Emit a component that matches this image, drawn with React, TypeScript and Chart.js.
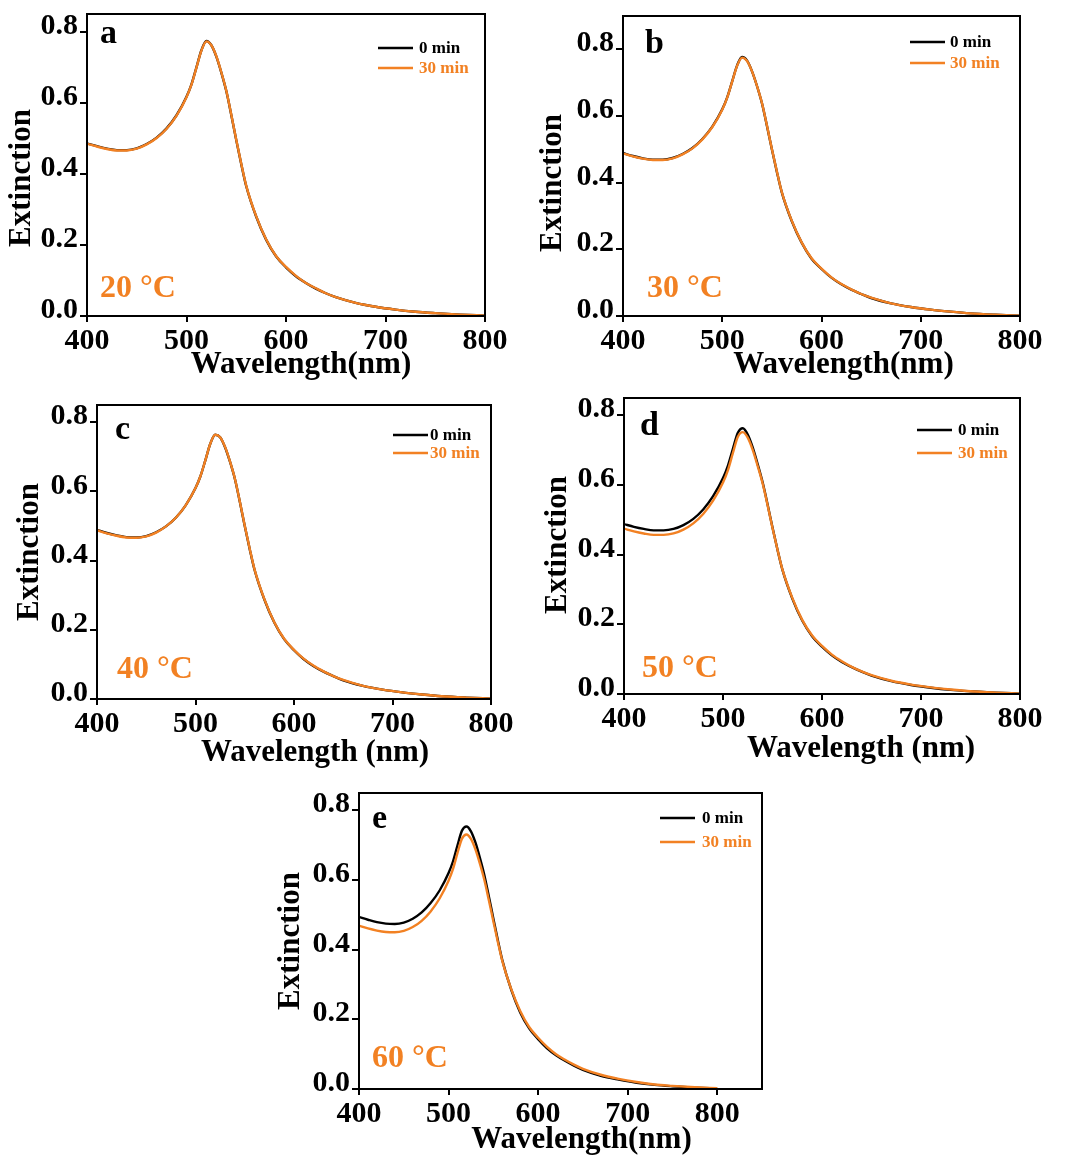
import React, { useEffect, useRef } from 'react';
import { Chart, registerables } from 'chart.js';

Chart.register(...registerables);

// ---------------- DATA ----------------
const WAVELENGTHS = [400, 410, 420, 430, 440, 450, 460, 470, 480, 490, 500, 505, 510, 515, 520, 525, 530, 535, 540, 545, 550, 555, 560, 570, 580, 590, 600, 610, 620, 630, 640, 650, 670, 690, 710, 730, 750, 775, 800];

const A_0MIN = [0.486, 0.478, 0.471, 0.467, 0.467, 0.472, 0.484, 0.502, 0.528, 0.565, 0.617, 0.652, 0.700, 0.748, 0.774, 0.762, 0.730, 0.685, 0.633, 0.566, 0.495, 0.428, 0.366, 0.280, 0.215, 0.168, 0.137, 0.112, 0.093, 0.077, 0.064, 0.053, 0.037, 0.026, 0.018, 0.012, 0.008, 0.004, 0.001];
const A_30MIN = [0.485, 0.477, 0.470, 0.466, 0.466, 0.471, 0.483, 0.501, 0.527, 0.564, 0.616, 0.651, 0.699, 0.747, 0.773, 0.762, 0.731, 0.686, 0.634, 0.567, 0.496, 0.429, 0.367, 0.281, 0.216, 0.169, 0.138, 0.113, 0.093, 0.078, 0.064, 0.053, 0.037, 0.026, 0.018, 0.012, 0.008, 0.004, 0.001];

const B_0MIN = [0.489, 0.480, 0.473, 0.469, 0.469, 0.474, 0.486, 0.504, 0.531, 0.568, 0.620, 0.656, 0.704, 0.752, 0.777, 0.766, 0.734, 0.690, 0.638, 0.571, 0.500, 0.433, 0.371, 0.285, 0.220, 0.172, 0.141, 0.115, 0.095, 0.079, 0.066, 0.054, 0.038, 0.027, 0.019, 0.013, 0.008, 0.004, 0.001];
const B_30MIN = [0.488, 0.479, 0.472, 0.468, 0.468, 0.473, 0.485, 0.503, 0.530, 0.567, 0.619, 0.655, 0.703, 0.751, 0.775, 0.765, 0.734, 0.690, 0.639, 0.572, 0.501, 0.434, 0.372, 0.286, 0.221, 0.173, 0.142, 0.116, 0.096, 0.080, 0.066, 0.055, 0.038, 0.027, 0.019, 0.013, 0.008, 0.004, 0.001];

const C_0MIN = [0.489, 0.480, 0.473, 0.468, 0.467, 0.471, 0.482, 0.499, 0.524, 0.560, 0.610, 0.644, 0.690, 0.738, 0.764, 0.757, 0.728, 0.686, 0.636, 0.570, 0.500, 0.434, 0.373, 0.287, 0.221, 0.173, 0.141, 0.115, 0.095, 0.079, 0.066, 0.054, 0.038, 0.027, 0.019, 0.013, 0.008, 0.004, 0.001];
const C_30MIN = [0.488, 0.479, 0.472, 0.467, 0.466, 0.470, 0.481, 0.499, 0.524, 0.560, 0.610, 0.644, 0.690, 0.738, 0.764, 0.757, 0.729, 0.687, 0.637, 0.571, 0.501, 0.435, 0.374, 0.288, 0.222, 0.174, 0.142, 0.116, 0.096, 0.080, 0.066, 0.055, 0.038, 0.027, 0.019, 0.013, 0.008, 0.004, 0.001];

const D_0MIN = [0.488, 0.480, 0.474, 0.470, 0.470, 0.474, 0.485, 0.503, 0.530, 0.568, 0.620, 0.656, 0.704, 0.750, 0.763, 0.745, 0.708, 0.660, 0.608, 0.545, 0.478, 0.415, 0.357, 0.274, 0.211, 0.166, 0.136, 0.111, 0.092, 0.077, 0.064, 0.053, 0.037, 0.026, 0.018, 0.012, 0.008, 0.004, 0.001];
const D_30MIN = [0.475, 0.467, 0.461, 0.457, 0.457, 0.461, 0.472, 0.490, 0.517, 0.555, 0.607, 0.643, 0.692, 0.739, 0.752, 0.736, 0.701, 0.655, 0.605, 0.543, 0.477, 0.415, 0.358, 0.276, 0.213, 0.168, 0.138, 0.113, 0.094, 0.078, 0.065, 0.054, 0.038, 0.027, 0.019, 0.013, 0.008, 0.004, 0.001];

const E_0MIN = [0.494, 0.486, 0.479, 0.475, 0.474, 0.478, 0.489, 0.507, 0.534, 0.570, 0.620, 0.654, 0.700, 0.742, 0.754, 0.740, 0.708, 0.664, 0.614, 0.553, 0.490, 0.428, 0.370, 0.285, 0.220, 0.174, 0.143, 0.117, 0.097, 0.081, 0.067, 0.055, 0.038, 0.027, 0.018, 0.012, 0.008, 0.004, 0.001];
const E_30MIN = [0.469, 0.461, 0.455, 0.451, 0.450, 0.454, 0.465, 0.483, 0.510, 0.547, 0.598, 0.632, 0.678, 0.719, 0.731, 0.718, 0.688, 0.647, 0.600, 0.542, 0.482, 0.423, 0.368, 0.287, 0.224, 0.178, 0.147, 0.121, 0.100, 0.084, 0.070, 0.058, 0.041, 0.029, 0.020, 0.013, 0.009, 0.005, 0.002];

const SERIES_LABELS = ['0 min', '30 min'];
const PANEL_LETTERS = ['a', 'b', 'c', 'd', 'e'];
const TEMPERATURES = ['20 °C', '30 °C', '40 °C', '50 °C', '60 °C'];
const X_TITLES = ['Wavelength(nm)', 'Wavelength(nm)', 'Wavelength (nm)', 'Wavelength (nm)', 'Wavelength(nm)'];
const Y_TITLE = 'Extinction';
const X_TICKS = [400, 500, 600, 700, 800];
const Y_TICKS = [0, 0.2, 0.4, 0.6, 0.8];
const X_MIN = 400;
const X_MAX = [800, 800, 800, 800, 850];
const Y_MIN = 0;
const Y_MAX = [0.85, 0.9, 0.85, 0.85, 0.85];

const SERIES = [
  [A_0MIN, A_30MIN],
  [B_0MIN, B_30MIN],
  [C_0MIN, C_30MIN],
  [D_0MIN, D_30MIN],
  [E_0MIN, E_30MIN],
];

// ---------------- STYLE / LAYOUT ----------------
const FONT = '"Liberation Serif", "Times New Roman", "DejaVu Serif", serif';
const BLACK = '#000000';
const ORANGE = '#F28123';

const PANEL_LAYOUT = [
  { L: 87, T: 14, R: 485, B: 316, letter: [13, 29], temp: [13, -19], legLine: -107, legText: -66, legY: [34, 54], yTitle: [-65, 13], xTitle: [15, 57] },
  { L: 623, T: 16, R: 1020, B: 316, letter: [22, 37], temp: [24, -19], legLine: -110, legText: -70, legY: [26, 47], yTitle: [-70, 17], xTitle: [22, 57] },
  { L: 97, T: 405, R: 491, B: 699, letter: [18, 34], temp: [20, -21], legLine: -98, legText: -61, legY: [30, 48], yTitle: [-67, 0], xTitle: [21, 62] },
  { L: 624, T: 398, R: 1020, B: 694, letter: [16, 37], temp: [18, -17], legLine: -103, legText: -62, legY: [32, 55], yTitle: [-66, -1], xTitle: [39, 63] },
  { L: 359, T: 793, R: 762, B: 1089, letter: [13, 35], temp: [13, -22], legLine: -102, legText: -60, legY: [25, 49], yTitle: [-68, 0], xTitle: [21, 59] },
];

const PAD_L = 100;
const PAD_T = 30;
const PAD_R = 50;
const PAD_B = 80;

const decorPlugin = {
  id: 'decor',
  afterDraw(chart: any, _args: any, opts: any) {
    const { ctx, chartArea: ca } = chart;
    const lay = opts.layout;
    ctx.save();
    // frame
    ctx.strokeStyle = BLACK;
    ctx.lineWidth = 2;
    ctx.strokeRect(ca.left, ca.top, ca.right - ca.left, ca.bottom - ca.top);

    // panel letter
    ctx.fillStyle = BLACK;
    ctx.textAlign = 'left';
    ctx.textBaseline = 'alphabetic';
    ctx.font = `bold 34px ${FONT}`;
    ctx.fillText(opts.letter, ca.left + lay.letter[0], ca.top + lay.letter[1]);

    // temperature
    ctx.fillStyle = ORANGE;
    ctx.font = `bold 32px ${FONT}`;
    ctx.fillText(opts.temp, ca.left + lay.temp[0], ca.bottom + lay.temp[1]);

    // legend
    ctx.font = `bold 17px ${FONT}`;
    ctx.textBaseline = 'middle';
    chart.data.datasets.forEach((ds: any, i: number) => {
      const y = ca.top + lay.legY[i];
      ctx.strokeStyle = ds.borderColor;
      ctx.lineWidth = 2.4;
      ctx.beginPath();
      ctx.moveTo(ca.right + lay.legLine, y);
      ctx.lineTo(ca.right + lay.legLine + 35, y);
      ctx.stroke();
      ctx.fillStyle = ds.borderColor;
      ctx.fillText(ds.label, ca.right + lay.legText, y + 1);
    });

    // x title
    ctx.fillStyle = BLACK;
    ctx.font = `bold 31px ${FONT}`;
    ctx.textAlign = 'center';
    ctx.textBaseline = 'alphabetic';
    ctx.fillText(opts.xTitle, (ca.left + ca.right) / 2 + lay.xTitle[0], ca.bottom + lay.xTitle[1]);

    // y title
    ctx.translate(ca.left + lay.yTitle[0], (ca.top + ca.bottom) / 2 + lay.yTitle[1]);
    ctx.rotate(-Math.PI / 2);
    ctx.textBaseline = 'middle';
    ctx.fillText(opts.yTitle, 0, 0);
    ctx.restore();
  },
};

function Panel({ index }: { index: number }) {
  const ref = useRef<HTMLCanvasElement>(null);
  const lay = PANEL_LAYOUT[index];
  const cw = lay.R - lay.L + PAD_L + PAD_R;
  const ch = lay.B - lay.T + PAD_T + PAD_B;

  useEffect(() => {
    if (!ref.current) return;
    const [s0, s30] = SERIES[index];
    const tickFont = { family: FONT, size: 30, weight: 'bold' as const };
    const chart = new Chart(ref.current, {
      type: 'line',
      data: {
        datasets: [
          {
            label: SERIES_LABELS[0],
            data: WAVELENGTHS.map((x, i) => ({ x, y: s0[i] })),
            borderColor: BLACK,
            backgroundColor: BLACK,
            order: 1,
          },
          {
            label: SERIES_LABELS[1],
            data: WAVELENGTHS.map((x, i) => ({ x, y: s30[i] })),
            borderColor: ORANGE,
            backgroundColor: ORANGE,
            order: 0,
          },
        ],
      },
      options: {
        animation: false,
        responsive: false,
        maintainAspectRatio: false,
        devicePixelRatio: 1,
        layout: { padding: { left: 0, top: PAD_T, right: PAD_R, bottom: 0 } },
        elements: {
          point: { radius: 0 },
          line: { borderWidth: 2.4, cubicInterpolationMode: 'monotone', fill: false },
        },
        plugins: {
          legend: { display: false },
          tooltip: { enabled: false },
          decor: {
            layout: lay,
            letter: PANEL_LETTERS[index],
            temp: TEMPERATURES[index],
            xTitle: X_TITLES[index],
            yTitle: Y_TITLE,
          },
        } as any,
        scales: {
          x: {
            type: 'linear',
            min: X_MIN,
            max: X_MAX[index],
            afterBuildTicks: (s: any) => {
              s.ticks = X_TICKS.map((v) => ({ value: v }));
            },
            afterFit: (s: any) => {
              s.height = PAD_B;
            },
            ticks: {
              font: { ...tickFont, lineHeight: 1.2 },
              color: BLACK,
              padding: 1,
              maxRotation: 0,
              autoSkip: false,
              callback: (v: any) => String(v),
            },
            grid: { display: true, drawOnChartArea: false, drawTicks: true, tickLength: 6, color: BLACK, lineWidth: 2 },
            border: { display: true, color: BLACK, width: 2 },
          },
          y: {
            type: 'linear',
            min: Y_MIN,
            max: Y_MAX[index],
            afterBuildTicks: (s: any) => {
              s.ticks = Y_TICKS.map((v) => ({ value: v }));
            },
            afterFit: (s: any) => {
              s.width = PAD_L;
            },
            ticks: {
              font: { ...tickFont, lineHeight: 0.38 },
              color: BLACK,
              padding: 2,
              autoSkip: false,
              callback: (v: any) => [Number(v).toFixed(1), ''],
            },
            grid: { display: true, drawOnChartArea: false, drawTicks: true, tickLength: 7, color: BLACK, lineWidth: 2 },
            border: { display: true, color: BLACK, width: 2 },
          },
        },
      } as any,
      plugins: [decorPlugin],
    });
    return () => chart.destroy();
  }, [index]);

  return (
    <canvas
      ref={ref}
      width={cw}
      height={ch}
      style={{ position: 'absolute', left: lay.L - PAD_L, top: lay.T - PAD_T, width: cw, height: ch }}
    />
  );
}

export default function App() {
  return (
    <div
      style={{
        position: 'absolute',
        left: 0,
        top: 0,
        width: 1066,
        height: 1156,
        overflow: 'hidden',
        background: '#ffffff',
      }}
    >
      {PANEL_LETTERS.map((_, i) => (
        <Panel key={i} index={i} />
      ))}
    </div>
  );
}
